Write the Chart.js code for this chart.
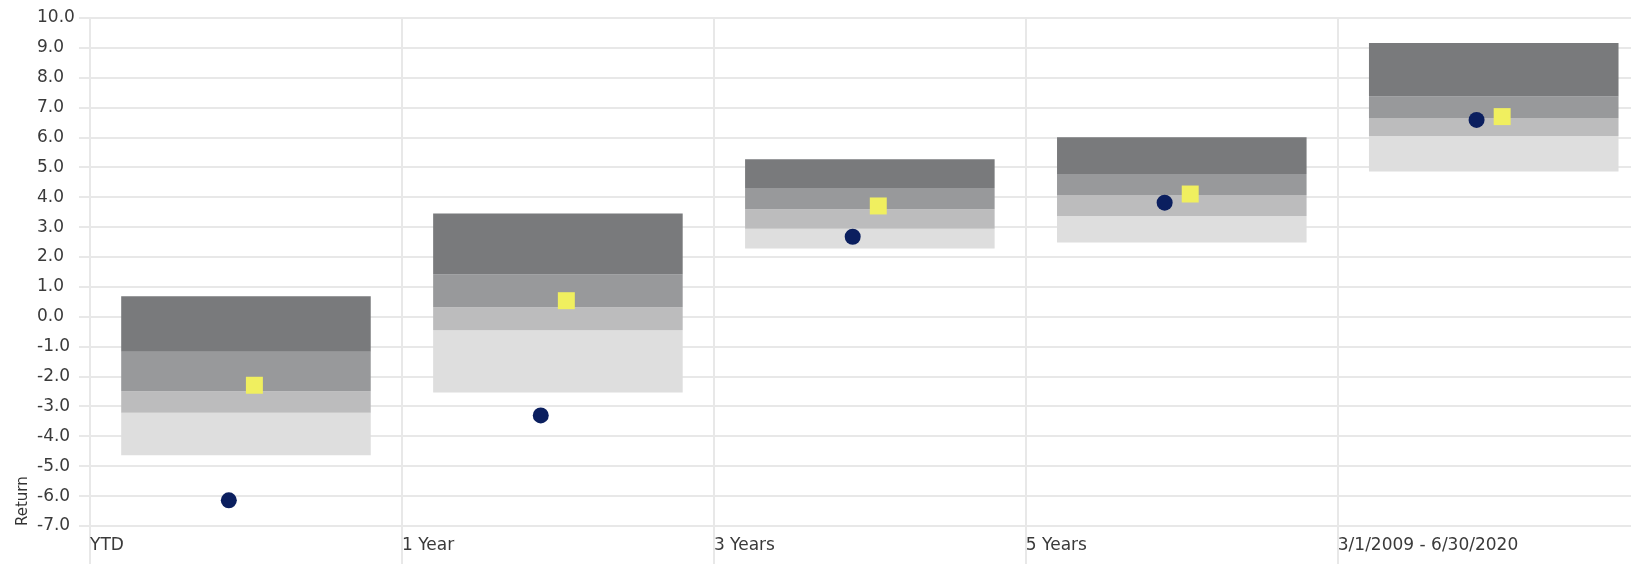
<!DOCTYPE html>
<html>
<head>
<meta charset="utf-8">
<script src="https://cdn.jsdelivr.net/npm/chart.js@4/dist/chart.umd.min.js"></script>
<style>
body{margin:0;background:#fff;overflow:hidden}
</style>
</head>
<body>
<canvas id="returnChart" width="1631" height="564"></canvas>
<script>

let periods=["YTD","1 Year","3 Years","5 Years","3/1/2009 - 6/30/2020"]

// peer group percentiles
let pct5=[0.69,3.46,5.27,6.01,9.16]
let pct25=[-1.17,1.42,4.31,4.78,7.37]
let median=[-2.49,0.32,3.60,4.08,6.65]
let pct75=[-3.21,-0.45,2.95,3.37,6.05]
let pct95=[-4.63,-2.53,2.29,2.49,4.86]

let fundReturn=[-6.14,-3.30,2.68,3.82,6.59]
let benchReturn=[-2.29,0.54,3.71,4.11,6.70]

let yTicksMin=-7
let yTicksMax=10

let gridColor="#e8e8e8"
let textColor="#3a3a3a"

function band(top,bottom,color){

return {
type:"bar",
data:periods.map((p,i)=>({x:i+0.5,y:[bottom[i],top[i]]})),
backgroundColor:color,
borderWidth:0,
grouped:false,
categoryPercentage:1,
barPercentage:0.8,
order:1
}

}

function marker(values,shift,style,radius,color){

return {
type:"line",
data:periods.map((p,i)=>({x:i+shift,y:values[i]})),
showLine:false,
pointStyle:style,
pointRadius:radius,
pointHoverRadius:radius,
pointBackgroundColor:color,
pointBorderWidth:0,
order:0
}

}

new Chart(document.getElementById("returnChart"),{

type:"bar",

data:{
datasets:[
marker(fundReturn,0.445,"circle",8,"#0b1f5f"),
marker(benchReturn,0.527,"rect",12,"#f0ef5f"),
band(pct5,pct25,"#797a7c"),
band(pct25,median,"#98999b"),
band(median,pct75,"#bcbcbd"),
band(pct75,pct95,"#dedede")
]
},

options:{
responsive:false,
animation:false,
layout:{autoPadding:false,padding:{top:18,left:0,right:0,bottom:0}},
plugins:{legend:{display:false},tooltip:{enabled:false}},
scales:{
x:{
type:"linear",
min:0,
max:4.94,
offset:false,
grid:{offset:false,color:gridColor,lineWidth:2,tickLength:38,tickColor:gridColor},
border:{color:gridColor,width:2},
ticks:{
stepSize:1,
includeBounds:false,
align:"start",
padding:-29,
color:textColor,
font:{family:"DejaVu Sans",size:17},
callback:v=>Number.isInteger(v)?periods[v]:""
},
afterFit:s=>{
s.height=38
s.paddingLeft=0
s.paddingRight=0
}
},
y:{
min:yTicksMin,
max:yTicksMax,
grid:{color:gridColor,lineWidth:2,tickLength:11,tickColor:gridColor},
border:{color:gridColor,width:2},
ticks:{
stepSize:1,
crossAlign:"far",
padding:5,
color:textColor,
font:{family:"DejaVu Sans",size:17},
callback:v=>v.toFixed(1)
},
afterFit:s=>{s.width=53}
},
yTitle:{
type:"linear",
position:"left",
weight:1,
grid:{display:false},
border:{display:false},
ticks:{display:false},
title:{
display:true,
text:"Return",
align:"start",
color:"#333",
padding:{top:14,bottom:4},
font:{family:"DejaVu Sans",size:15}
},
afterFit:s=>{s.width=37}
}
}
}

})

</script>
</body>
</html>
